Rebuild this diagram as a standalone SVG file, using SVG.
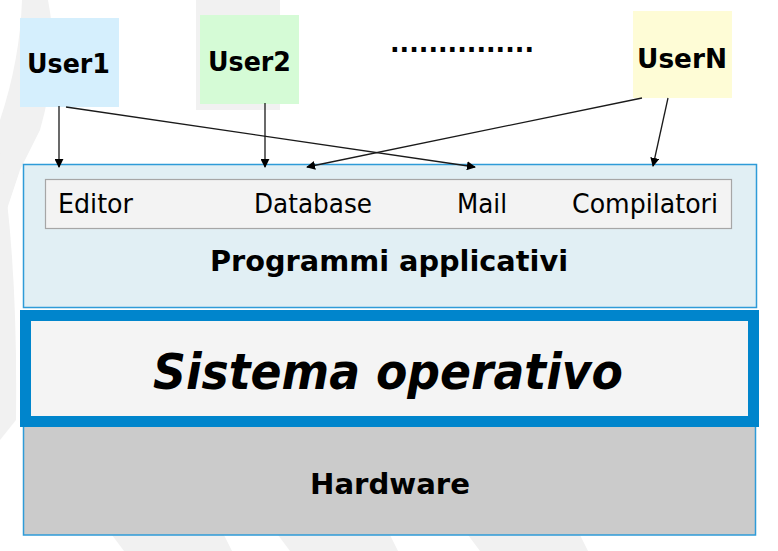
<svg xmlns="http://www.w3.org/2000/svg" width="778" height="551" viewBox="0 0 778 551">
<defs>
<style>
.t{font-family:"DejaVu Sans","Liberation Sans",sans-serif;fill:#000}
.b{font-weight:bold}
.bg{fill:#f1f1f1}
.layer{stroke:#2e9bd8;stroke-width:1.5}
.con line{stroke:#1a1a1a;stroke-width:1.3;marker-end:url(#ah)}
</style>
<marker id="ah" viewBox="0 0 10 10" refX="9" refY="5" markerWidth="9" markerHeight="9" markerUnits="userSpaceOnUse" orient="auto">
<path d="M0,0 L10,5 L0,10 Z" fill="#000"/>
</marker>
</defs>
<rect width="778" height="551" fill="#ffffff"/>
<g id="background">
<path class="bg" d="M22,0 L48,0 Q60,60 40,130 L20,170 Q10,200 0,230 L0,120 Q20,60 22,0 Z"/>
<path class="bg" d="M0,150 Q18,260 16,420 L0,440 Z"/>
<path class="bg" d="M196,0 L280,0 L280,110 L196,110 Z"/>
<path class="bg" d="M112,535 L224,535 L232,551 L124,551 Z"/>
<path class="bg" d="M278,535 L390,535 L398,551 L290,551 Z"/>
<path class="bg" d="M468,535 L580,535 L588,551 L480,551 Z"/>
</g>
<g id="user1">
<rect x="20" y="18" width="99" height="89" fill="#d5effd"/>
<text class="t b" x="27" y="73" font-size="27" textLength="83" lengthAdjust="spacingAndGlyphs">User1</text>
</g>
<g id="user2">
<rect x="200" y="15" width="99" height="89" fill="#d5fbd6"/>
<text class="t b" x="208" y="71" font-size="27" textLength="83" lengthAdjust="spacingAndGlyphs">User2</text>
</g>
<g id="dots">
<text class="t b" x="390" y="52" font-size="26" textLength="144" lengthAdjust="spacingAndGlyphs">...............</text>
</g>
<g id="userN">
<rect x="633" y="11" width="99" height="87" fill="#fefcd6"/>
<text class="t b" x="637" y="68" font-size="27" textLength="90" lengthAdjust="spacingAndGlyphs">UserN</text>
</g>
<g id="programmi">
<rect class="layer" x="23.5" y="164.5" width="733" height="143" fill="#e1eff4"/>
<rect x="45.5" y="179.5" width="686" height="49" fill="#f3f3f3" stroke="#a6a6a6" stroke-width="1.2"/>
<text class="t" x="58" y="213" font-size="27" textLength="75" lengthAdjust="spacingAndGlyphs">Editor</text>
<text class="t" x="254" y="213" font-size="27" textLength="118" lengthAdjust="spacingAndGlyphs">Database</text>
<text class="t" x="457" y="213" font-size="27" textLength="50" lengthAdjust="spacingAndGlyphs">Mail</text>
<text class="t" x="572" y="213" font-size="27" textLength="146" lengthAdjust="spacingAndGlyphs">Compilatori</text>
<text class="t b" x="210" y="271" font-size="28" textLength="358" lengthAdjust="spacingAndGlyphs">Programmi applicativi</text>
</g>
<g id="hardware">
<rect class="layer" x="23.5" y="425" width="732" height="110" fill="#cbcbcb"/>
<text class="t b" x="310" y="494" font-size="28" textLength="160" lengthAdjust="spacingAndGlyphs">Hardware</text>
</g>
<g id="sistema">
<rect x="25.5" y="315.5" width="728" height="106" fill="#f4f4f4" stroke="#0085cc" stroke-width="11"/>
<text class="t b" x="153" y="389" font-size="50" font-style="italic" textLength="470" lengthAdjust="spacingAndGlyphs">Sistema operativo</text>
</g>
<g id="connectors" class="con">
<line x1="59" y1="106" x2="59" y2="167"/>
<line x1="66" y1="107" x2="475" y2="167"/>
<line x1="265" y1="103" x2="265" y2="167"/>
<line x1="642" y1="98" x2="307" y2="167"/>
<line x1="668" y1="98" x2="653" y2="166"/>
</g>
</svg>
